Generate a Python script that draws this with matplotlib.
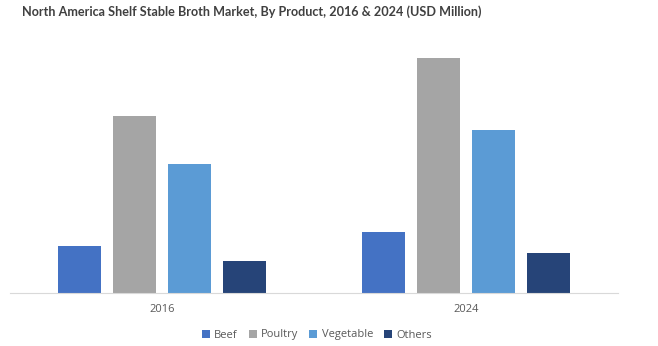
import numpy as np
import matplotlib.pyplot as plt

years = ['2016', '2024']
products = ['Beef', 'Poultry', 'Vegetable', 'Others']
beef = [47, 61]
poultry = [177, 235]
vegetable = [129, 163]
others = [32, 40]
colors = ['#4472C4', '#A5A5A5', '#5B9BD5', '#264478']

plt.rcParams['font.family'] = ['Open Sans', 'DejaVu Sans']

fig = plt.figure(figsize=(6.58, 3.46), dpi=100)
ax = fig.add_axes([10 / 658, 1 - 293 / 346, 608 / 658, 253 / 346])

x = np.arange(len(years))
w = 0.1415
step = 0.181
series = [beef, poultry, vegetable, others]
for i, (vals, name, c) in enumerate(zip(series, products, colors)):
    ax.bar(x + (i - 1.5) * step, vals, w, color=c, label=name)

ax.set_xlim(-0.5, 1.5)
ax.set_ylim(0, 253)
ax.set_yticks([])
ax.set_xticks(x)
ax.set_xticklabels(years, fontsize=8, color='#595959')
ax.tick_params(axis='x', length=0, pad=8)
for s in ['top', 'left', 'right']:
    ax.spines[s].set_visible(False)
ax.spines['bottom'].set_color('#D9D9D9')

fig.text(22 / 658, 1 - 12 / 346, 'North America Shelf Stable Broth Market, By Product, 2016 & 2024 (USD Million)',
         fontsize=9.1, fontweight='bold', color='#404040', va='center', ha='left',
         family=['Lato', 'DejaVu Sans'])

fig.legend(loc='center', bbox_to_anchor=(317 / 658, 1 - 335 / 346), ncol=4, frameon=False,
           fontsize=8, handlelength=0.7, handleheight=0.7, handletextpad=0.4, columnspacing=1.0,
           labelcolor='#595959')

fig.savefig('out.png', dpi=100)
